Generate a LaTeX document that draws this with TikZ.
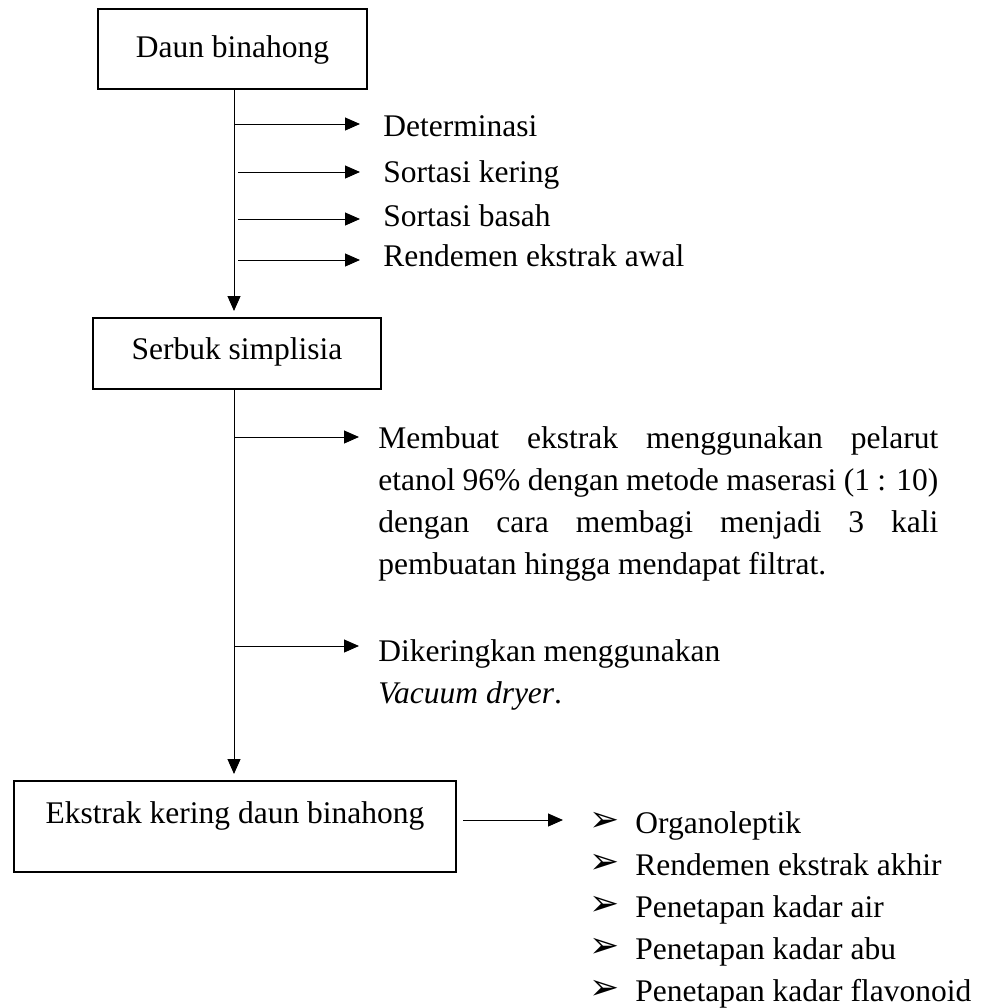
\documentclass[tikz,border=0pt]{standalone}
\usepackage{fontspec}
\setmainfont{Liberation Serif}
\newfontfamily\symfont{DejaVu Sans}
\usetikzlibrary{arrows.meta,calc}
\newcommand{\bul}{\makebox[23pt][l]{\raisebox{0.8pt}{\symfont\fontsize{18}{18}\selectfont ➢}}}
\begin{document}
\begin{tikzpicture}[x=0.5pt,y=-0.5pt,
  font=\fontsize{15.75}{21}\selectfont,
  box/.style={draw, line width=1pt, inner xsep=0pt, inner ysep=0pt, anchor=north west},
  arr/.style={line width=0.5pt, -{Triangle[length=7.5pt,width=6.5pt]}},
  lbl/.style={anchor=base west, inner sep=0pt}]
\useasboundingbox (0,0) rectangle (986,1008);

% boxes
\node[box, minimum width=134.5pt, minimum height=40pt, text height=24pt, text depth=16pt] (b1) at (97,8) {Daun binahong};
\node[box, minimum width=144pt, minimum height=35.5pt, text height=20.5pt, text depth=15pt] (b2) at (92,317) {Serbuk simplisia};
\node[box, minimum width=221pt, minimum height=45.5pt, text height=21pt, text depth=24.5pt] (b3) at (13,780) {Ekstrak kering daun binahong};

% spine
\coordinate (sp) at (234,0);
\draw[arr, shorten >=3pt] (b1.south -| sp) -- (b2.north -| sp);
\draw[arr, shorten >=3pt] (b2.south -| sp) -- (b3.north -| sp);

% first group of labels
\node[lbl] (t1) at (383,136) {Determinasi};
\node[lbl] (t2) at (383,182) {Sortasi kering};
\node[lbl] (t3) at (383,226) {Sortasi basah};
\node[lbl] (t4) at (383,266) {Rendemen ekstrak awal};

\coordinate (s1) at (234,124);
\coordinate (s2) at (238,172);
\coordinate (s3) at (238,219);
\coordinate (s4) at (238,260);
\draw[arr, shorten >=11.5pt] (s1) -- (s1 -| t1.west);
\draw[arr, shorten >=11.5pt] (s2) -- (s2 -| t2.west);
\draw[arr, shorten >=11.5pt] (s3) -- (s3 -| t3.west);
\draw[arr, shorten >=11.5pt] (s4) -- (s4 -| t4.west);

% second group
\node[lbl] (p1) at (378,448) {\parbox[t]{280pt}{%
\makebox[\linewidth][s]{Membuat ekstrak menggunakan pelarut}\\
\makebox[\linewidth][s]{etanol 96\% dengan metode maserasi (1 : 10)}\\
\makebox[\linewidth][s]{dengan cara membagi menjadi 3 kali}\\
pembuatan hingga mendapat filtrat.}};
\node[lbl] (d1) at (378,661) {\parbox[t]{300pt}{Dikeringkan menggunakan\\\textit{Vacuum dryer}.}};

\coordinate (s5) at (234,437);
\coordinate (s6) at (234,646);
\draw[arr, shorten >=9.5pt] (s5) -- (s5 -| p1.west);
\draw[arr, shorten >=9.5pt] (s6) -- (s6 -| d1.west);

% output list
\node[lbl] (l1) at (589,833) {\parbox[t]{200pt}{%
\bul Organoleptik\\
\bul Rendemen ekstrak akhir\\
\bul Penetapan kadar air\\
\bul Penetapan kadar abu\\
\bul Penetapan kadar flavonoid}};
\draw[arr] ($(b3.east)+(6,-6.5)$) -- ++(100,0);
\end{tikzpicture}
\end{document}
